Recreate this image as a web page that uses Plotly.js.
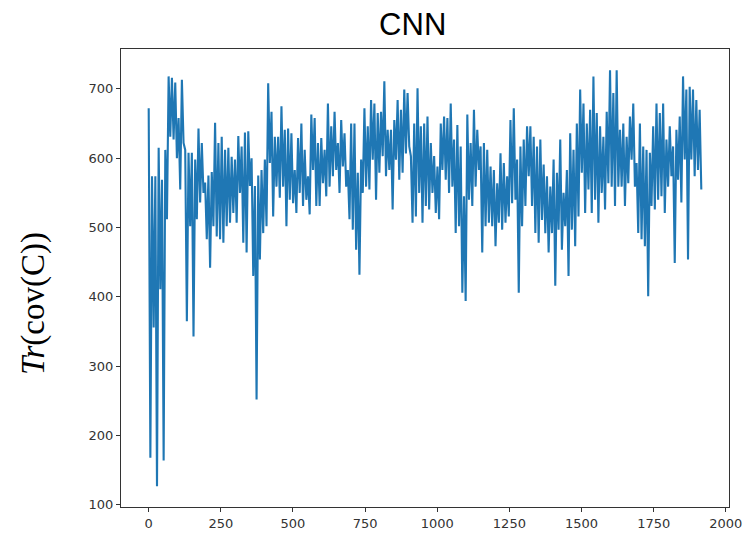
<!DOCTYPE html>
<html>
<head>
<meta charset="utf-8">
<script src="https://cdn.plot.ly/plotly-3.0.1.min.js"></script>
<style>html,body{margin:0;padding:0;background:#fff;}#chart{width:749px;height:539px;}</style>
</head>
<body>
<div id="chart"></div>
<script>
// For each narrow slice of the series, the upper and lower extent of the trace
const seriesHigh = [
 672,574,574,615,569,612,718,716,709,658,713,612,608,608,598,643,622,565,575,580,
 651,622,631,612,615,602,598,632,617,637,639,600,560,575,
 583,598,708,667,631,631,675,641,643,636,583,629,650,612,574,663,658,622,629,612,
 679,646,667,622,655,636,583,650,650,579,598,672,646,
 684,679,665,667,711,641,641,655,684,670,699,694,603,650,701,646,650,660,622,603,
 588,650,660,658,679,627,648,617,545,663,622,670,641,
 617,622,612,588,583,564,607,593,574,655,672,598,617,627,646,646,631,617,627,591,
 574,559,598,579,627,550,583,636,612,650,699,679,650,
 670,718,665,646,631,667,727,694,727,641,650,631,660,679,593,650,617,612,608,646,
 679,665,679,627,646,617,641,660,718,699,703,699,684,670
];
const seriesLow = [
 168,356,127,411,164,512,631,627,600,555,622,365,502,343,512,536,550,483,442,502,
 487,483,478,502,507,521,507,550,478,464,560,430,252,454,
 492,502,593,516,559,543,559,502,540,535,521,550,531,540,519,583,531,531,564,545,
 559,574,583,550,588,559,512,497,468,432,550,559,555,
 598,540,579,603,574,583,526,598,569,579,607,617,507,516,550,507,531,526,550,521,
 512,583,569,550,559,492,502,406,394,540,531,559,583,
 464,502,507,502,473,507,497,507,516,535,540,406,502,531,574,531,492,478,511,492,
 464,492,416,497,468,502,430,497,473,516,579,521,555,
 521,540,507,550,526,564,559,531,559,559,531,564,598,559,492,483,473,401,531,526,
 540,545,521,559,574,449,569,536,598,454,598,574,583,555
];
const lastIndex = 1915;
const xTickVals = [0,250,500,750,1000,1250,1500,1750,2000];
const yTickVals = [100,200,300,400,500,600,700];
const titleText = "CNN";
const yLabel = "<i>Tr</i>(cov(C))";

// Interleave upper/lower extents along the index axis: high, low, high, low, ...
const xs = [], ys = [];
const nPts = seriesHigh.length * 2;
for (let i = 0; i < seriesHigh.length; i++) {
  xs.push((2 * i) * lastIndex / (nPts - 1)); ys.push(seriesHigh[i]);
  xs.push((2 * i + 1) * lastIndex / (nPts - 1)); ys.push(seriesLow[i]);
}

const trace = {
  x: xs, y: ys, type: 'scatter', mode: 'lines',
  line: {color: '#1f77b4', width: 2.1},
  hoverinfo: 'skip'
};

const axisCommon = {
  showgrid: false, zeroline: false, showline: true, mirror: true,
  linecolor: '#333', linewidth: 1, ticks: 'outside', ticklen: 4,
  tickcolor: '#333', tickwidth: 1,
  tickfont: {family: 'DejaVu Sans', size: 13, color: '#333'}
};

const layout = {
  width: 749, height: 539,
  margin: {l: 121, r: 20, t: 49, b: 32},
  paper_bgcolor: '#fff', plot_bgcolor: '#fff',
  showlegend: false,
  title: {text: titleText, font: {family: 'Liberation Sans', size: 31, color: '#000'},
          xref: 'container', x: 0.551, xanchor: 'center', yref: 'container', y: 0.955, yanchor: 'middle'},
  xaxis: Object.assign({}, axisCommon, {range: [-96, 2011], tickvals: xTickVals,
          ticktext: xTickVals.map(String)}),
  yaxis: Object.assign({}, axisCommon, {range: [97, 757.5], tickvals: yTickVals,
          ticktext: yTickVals.map(String)}),
  annotations: [{
    text: yLabel, xref: 'paper', yref: 'paper', x: -0.145, y: 0.445,
    xanchor: 'center', yanchor: 'middle', textangle: -90, showarrow: false,
    font: {family: 'Liberation Serif', size: 33, color: '#000'}
  }]
};

Plotly.newPlot('chart', [trace], layout, {displayModeBar: false, staticPlot: true});
</script>
</body>
</html>
